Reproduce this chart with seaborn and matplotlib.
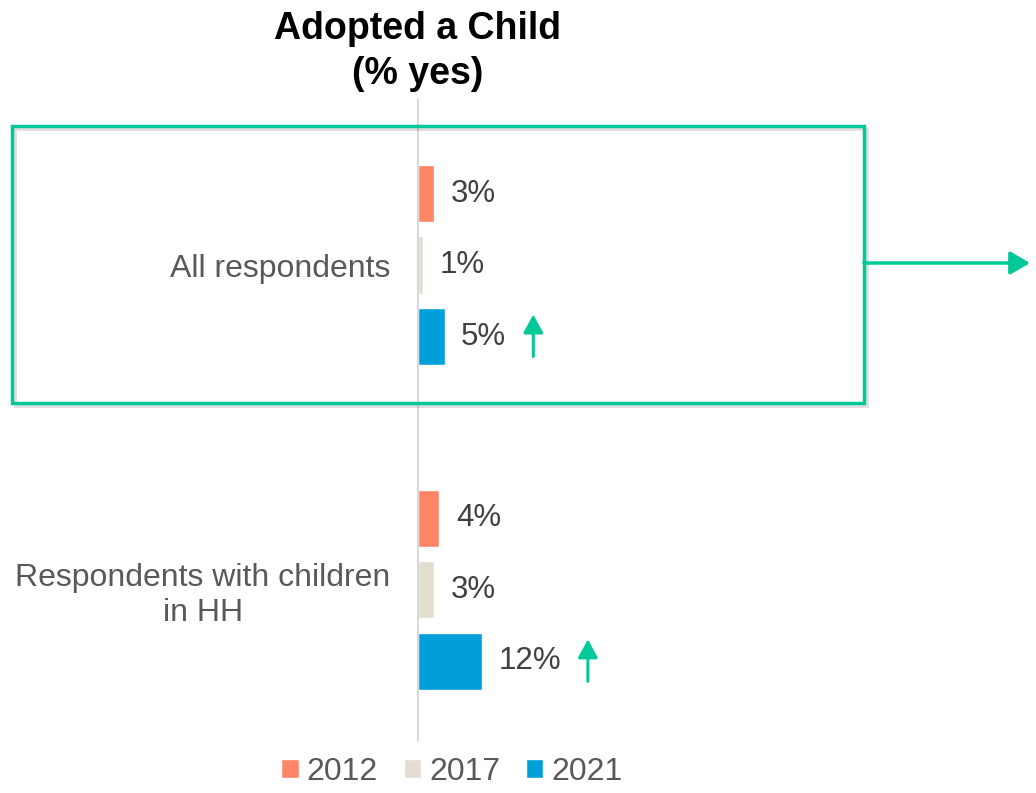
import numpy as np
import pandas as pd
import matplotlib
matplotlib.use("Agg")
import matplotlib.pyplot as plt
import seaborn as sns
from matplotlib.patches import Rectangle, FancyArrowPatch

# ---- data ----
categories = ["All respondents", "Respondents with children\nin HH"]
years = ["2012", "2017", "2021"]
values_2012 = [3, 4]
values_2017 = [1, 3]
values_2021 = [5, 12]
up_arrow_year = "2021"
title = "Adopted a Child\n(% yes)"
colors = ["#FF8566", "#E3DED0", "#009FDA"]
green = "#00C896"

sns.set_theme(style="white")
plt.rcParams["font.family"] = ["Liberation Sans", "DejaVu Sans"]

series = {"2012": values_2012, "2017": values_2017, "2021": values_2021}
rows = []
for y in years:
    for c, v in zip(categories, series[y]):
        rows.append({"category": c, "year": y, "value": v})
df = pd.DataFrame(rows)

W, H = 1036, 793
fig = plt.figure(figsize=(W / 100, H / 100), dpi=100)
ax = fig.add_axes([418 / W, 53 / H, 530 / W, 640 / H])

sns.barplot(data=df, x="value", y="category", hue="year", hue_order=years,
            order=categories, palette=colors, orient="h", width=0.66, gap=0.2,
            saturation=1, errorbar=None, ax=ax)

ax.set_xlim(0, 100)
ax.set_ylim(1.462, -0.508)
for s in ["top", "right", "bottom"]:
    ax.spines[s].set_visible(False)
ax.spines["left"].set_color("#D9D9D9")
ax.spines["left"].set_linewidth(1.5)
ax.set_xticks([])
ax.set_xlabel("")
ax.set_ylabel("")
ax.tick_params(axis="y", length=0, pad=20, labelsize=23, labelcolor="#595959")
for t in ax.get_yticklabels():
    t.set_multialignment("center")

label_texts = {}
for y, cont in zip(years, ax.containers):
    labs = [f"{v:g}%" for v in series[y]]
    label_texts[y] = ax.bar_label(cont, labels=labs, padding=12, fontsize=22.5,
                                  color="#404040")

handles, labels = ax.get_legend_handles_labels()
if ax.legend_ is not None:
    ax.legend_.remove()
fig.legend(handles, labels, loc="center", bbox_to_anchor=(452 / W, 21 / H),
           ncol=3, frameon=False, fontsize=23, handlelength=0.55,
           handleheight=0.55, handletextpad=0.25, columnspacing=0.8,
           labelcolor="#595959")

fig.text(418 / W, 0.986, title, ha="center", va="top", fontsize=27,
         fontweight="bold", color="black", linespacing=1.3)

# up arrows after 2021 labels
fig.canvas.draw()
renderer = fig.canvas.get_renderer()
inv = fig.transFigure.inverted()
idx = years.index(up_arrow_year)
for patch, txt in zip(ax.containers[idx].patches, label_texts[up_arrow_year]):
    ext = txt.get_window_extent(renderer)
    yc = ax.transData.transform((0, patch.get_y() + patch.get_height() / 2))[1]
    xa = ext.x1 + 27
    p0 = inv.transform((xa, yc - 20))
    p1 = inv.transform((xa, yc + 22))
    arr = FancyArrowPatch(p0, p1, transform=fig.transFigure,
                          arrowstyle="-|>,head_length=0.55,head_width=0.3",
                          mutation_scale=20, lw=2.2, color=green,
                          shrinkA=0, shrinkB=0)
    fig.add_artist(arr)

# highlight box with shadow
bx, by, bw, bh = 12 / W, 390 / H, 852 / W, 277 / H
shadow = Rectangle((bx + 3 / W, by - 3 / H), bw, bh, transform=fig.transFigure,
                   fill=False, lw=2.2, edgecolor="black", alpha=0.12)
fig.add_artist(shadow)
box = Rectangle((bx, by), bw, bh, transform=fig.transFigure, fill=False,
                lw=2.5, edgecolor=green)
fig.add_artist(box)
big = FancyArrowPatch((864 / W, 530 / H), (1030 / W, 530 / H),
                      transform=fig.transFigure,
                      arrowstyle="-|>,head_length=0.6,head_width=0.35",
                      mutation_scale=20, lw=2.5, color=green,
                      shrinkA=0, shrinkB=0)
fig.add_artist(big)

fig.savefig("out.png", dpi=100)
